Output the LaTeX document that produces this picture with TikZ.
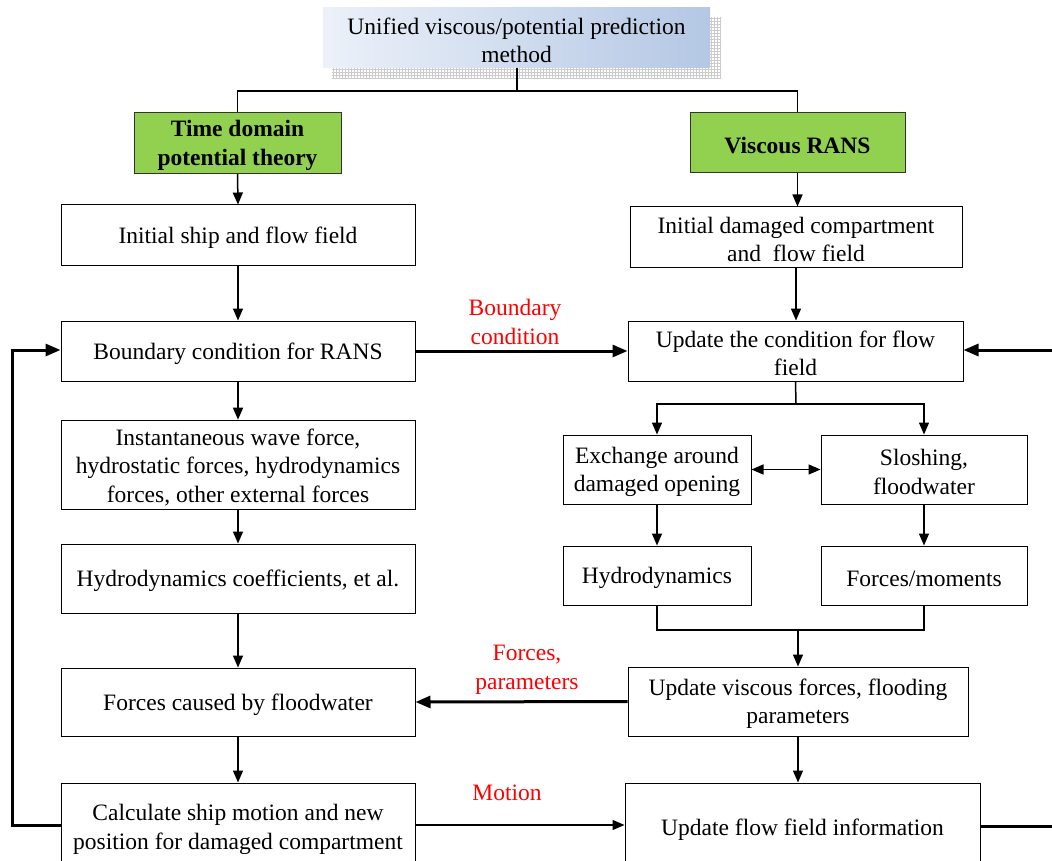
\documentclass[tikz,border=0pt]{standalone}
\usepackage{fontspec}
\setmainfont{Liberation Serif}
\usetikzlibrary{arrows.meta,patterns,calc}
\definecolor{boxgreen}{RGB}{146,208,80}
\definecolor{topleft}{RGB}{236,241,249}
\definecolor{topright}{RGB}{180,199,228}
\newcommand{\lowstrut}{\rule{0pt}{21pt}}
\begin{document}
\begin{tikzpicture}[x=1pt,y=-1pt,
  every node/.style={font=\fontsize{23.5}{28.5}\selectfont},
  lower/.style={execute at begin node={\rule{0pt}{22pt}}},
  box/.style={draw=black, line width=1pt, fill=white, align=center, inner sep=4pt, lower},
  gbox/.style={draw=black!80, line width=1pt, fill=boxgreen, align=center, lower, font=\fontsize{23.5}{28.5}\selectfont\bfseries},
  lbl/.style={text=red, align=center},
  thinln/.style={line width=1.5pt},
  tarr/.style={line width=1.5pt, -{Triangle[length=12pt,width=10pt]}},
  Tarr/.style={line width=3pt, -{Triangle[length=15pt,width=12pt]}},
]
\useasboundingbox (0,0) rectangle (1052,861);
% top box with shadow
\fill[pattern=grid, pattern color=gray!40] (332,18) rectangle (721,79);
\shade[left color=topleft, right color=topright] (323,8) rectangle (710,68);
\node[align=center, lower] (top) at (516.5,38) {\lowstrut Unified viscous/potential prediction\\method};
\coordinate (topb) at (517,68);
\coordinate (tj) at (517,91);
% green boxes
\node[gbox, minimum width=207pt, minimum height=60pt] (G1) at (237.5,143) {\lowstrut Time domain\\potential theory};
\node[gbox, minimum width=215pt, minimum height=60pt] (G2) at (797.5,143) {Viscous RANS};
% left column
\node[box, minimum width=354pt, minimum height=60pt] (L1) at (238,235) {Initial ship and flow field};
\node[box, minimum width=354pt, minimum height=60pt] (L2) at (238,351) {Boundary condition for RANS};
\node[box, minimum width=354pt, minimum height=84pt] (L3) at (238,465) {\lowstrut Instantaneous wave force,\\hydrostatic forces, hydrodynamics\\forces, other external forces};
\node[box, minimum width=354pt, minimum height=69pt] (L4) at (238,578.5) {Hydrodynamics coefficients, et al.};
\node[box, minimum width=354pt, minimum height=68pt] (L5) at (238,702) {Forces caused by floodwater};
\node[box, minimum width=354pt, minimum height=88pt] (L6) at (238,827) {\lowstrut Calculate ship motion and new\\position for damaged compartment};
% right column
\node[box, minimum width=332pt, minimum height=60pt] (R1) at (796,237) {\lowstrut Initial damaged compartment\\and\ \ flow field};
\node[box, minimum width=335pt, minimum height=60pt] (R2) at (795.5,351) {\lowstrut Update the condition for flow\\field};
\node[box, minimum width=188pt, minimum height=69pt] (R3a) at (657,469.5) {\lowstrut Exchange around\\damaged opening};
\node[box, minimum width=206pt, minimum height=69pt] (R3b) at (924,469.5) {\lowstrut Sloshing,\\floodwater};
\node[box, minimum width=188pt, minimum height=59pt] (R4a) at (657,575.5) {Hydrodynamics};
\node[box, minimum width=206pt, minimum height=59pt] (R4b) at (924,575.5) {Forces/moments};
\node[box, minimum width=340pt, minimum height=69pt] (R5) at (798,701.5) {\lowstrut Update viscous forces, flooding\\parameters};
\node[box, minimum width=355pt, minimum height=88pt] (R6) at (802.5,827) {Update flow field information};
% labels
\node[lbl] (lb1) at (515,322) {Boundary\\condition};
\node[lbl] (lb2) at (527,670) {Forces,\\parameters};
\node[lbl] (lb3) at (507,793) {Motion};
% top connectors
\draw[line width=2pt] (topb) -- (tj);
\draw[thinln] (tj) -| (G1.north);
\draw[thinln] (tj) -| (G2.north);
% left column arrows
\draw[tarr] (G1.south) -- (L1.north);
\draw[tarr] (L1.south) -- (L2.north);
\draw[tarr] (L2.south) -- (L3.north);
\draw[tarr] (L3.south) -- (L4.north);
\draw[tarr] (L4.south) -- (L5.north);
\draw[tarr] (L5.south) -- (L6.north);
% right column arrows
\draw[tarr] (G2.south) -- (R1.north -| G2.south);
\draw[tarr] (R1.south) -- (R2.north -| R1.south);
\coordinate (r2j) at (796,404);
\draw[thinln] (R2.south) -- (r2j);
\draw[tarr] (r2j) -| (R3a.north);
\draw[tarr] (r2j) -| (R3b.north);
\draw[line width=1.5pt, {Triangle[length=12pt,width=10pt]}-{Triangle[length=12pt,width=10pt]}] (R3a.east) -- (R3b.west);
\draw[tarr] (R3a.south) -- (R4a.north);
\draw[tarr] (R3b.south) -- (R4b.north);
\coordinate (r4j) at (798,630);
\draw[thinln] (R4a.south) |- (r4j) -| (R4b.south);
\draw[tarr] (r4j) -- (R5.north);
\draw[tarr] (R5.south) -- (R6.north -| R5.south);
% cross arrows
\draw[Tarr] (L2.east) -- (R2.west);
\draw[Tarr] (R5.west) -- (L5.east);
\draw[tarr] (L6.east |- 0,825) -- (R6.west |- 0,825);
% loops
\coordinate (lc1) at (12,825);
\coordinate (lc2) at (12,350);
\draw[Tarr] (L6.west |- lc1) -- (lc1) -- (lc2) -- (L2.west |- lc2);
\coordinate (rc1) at (1075,826);
\coordinate (rc2) at (1075,350);
\draw[Tarr] (R6.east |- rc1) -- (rc1) -- (rc2) -- (R2.east |- rc2);
\end{tikzpicture}
\end{document}
